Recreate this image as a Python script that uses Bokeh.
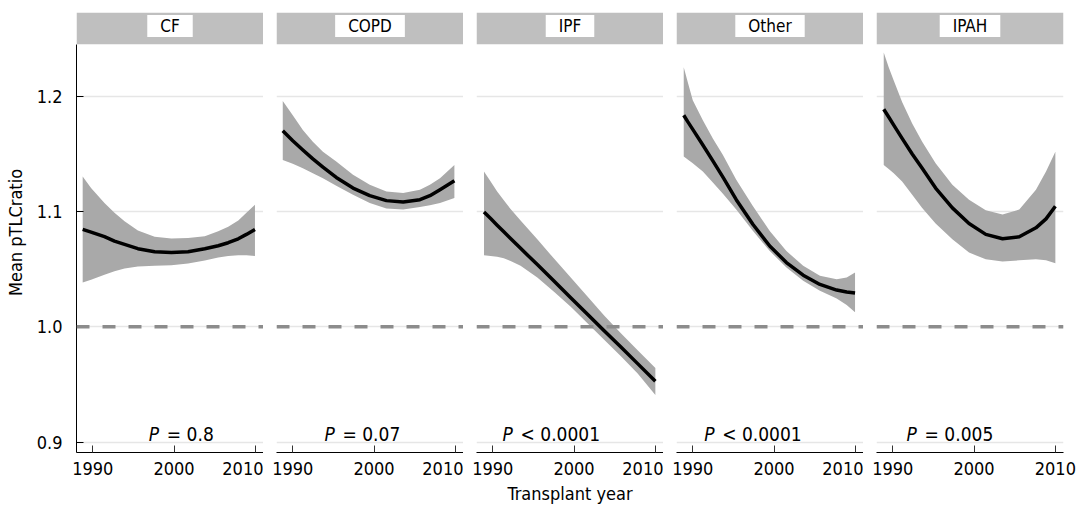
from bokeh.plotting import figure
from bokeh.layouts import row
from bokeh.models import Range1d, FixedTicker, Span, BoxAnnotation, Label, PrintfTickFormatter
from bokeh.embed import file_html
from bokeh.resources import INLINE

# Panels (diagnosis groups) and their trend-test results
diagnoses = ["CF", "COPD", "IPF", "Other", "IPAH"]
p_values = ["= 0.8", "= 0.07", "< 0.0001", "< 0.0001", "= 0.005"]

# Smoothed mean pTLC ratio by transplant year, with confidence band
cf_year = [1988.76, 1989.79, 1991.44, 1992.67, 1993.91, 1995.55, 1997.61, 1999.67,
           2001.72, 2003.78, 2005.43, 2006.66, 2007.90, 2008.90, 2009.95]
cf_mean = [1.0845, 1.0822, 1.0782, 1.0744, 1.0716, 1.0678, 1.0652, 1.0644,
           1.0652, 1.0678, 1.0704, 1.0730, 1.0764, 1.0802, 1.0845]
cf_upper = [1.1305, 1.1204, 1.1075, 1.0989, 1.0917, 1.0836, 1.0782, 1.0767,
            1.0770, 1.0787, 1.0830, 1.0868, 1.0922, 1.0989, 1.1060]
cf_lower = [1.0385, 1.0408, 1.0451, 1.0483, 1.0506, 1.0523, 1.0529, 1.0535,
            1.0549, 1.0575, 1.0601, 1.0615, 1.0621, 1.0621, 1.0615]

copd_year = [1988.77, 1990.00, 1991.24, 1992.47, 1993.71, 1995.35, 1997.41,
             1999.47, 2001.52, 2003.58, 2005.64, 2006.87, 2008.11, 2009.88]
copd_mean = [1.1701, 1.1615, 1.1534, 1.1457, 1.1385, 1.1296, 1.1204,
             1.1138, 1.1095, 1.1083, 1.1103, 1.1138, 1.1190, 1.1267]
copd_upper = [1.1960, 1.1836, 1.1707, 1.1606, 1.1520, 1.1434, 1.1319,
              1.1233, 1.1175, 1.1161, 1.1190, 1.1233, 1.1290, 1.1405]
copd_lower = [1.1448, 1.1414, 1.1376, 1.1333, 1.1290, 1.1224, 1.1147,
              1.1075, 1.1026, 1.1017, 1.1040, 1.1055, 1.1075, 1.1118]

ipf_year = [1988.92, 1989.74, 1990.54, 1991.36, 1992.19, 1993.42, 1995.48,
            1997.53, 1999.59, 2001.65, 2003.70, 2005.76, 2007.82, 2010.00]
ipf_mean = [1.0997, 1.0940, 1.0882, 1.0825, 1.0767, 1.0681, 1.0540,
            1.0397, 1.0253, 1.0109, 0.9966, 0.9825, 0.9681, 0.9529]
ipf_upper = [1.1348, 1.1262, 1.1175, 1.1098, 1.1023, 1.0922, 1.0759,
             1.0592, 1.0428, 1.0264, 1.0098, 0.9945, 0.9796, 0.9644]
ipf_lower = [1.0621, 1.0615, 1.0609, 1.0595, 1.0572, 1.0529, 1.0428,
             1.0305, 1.0175, 1.0032, 0.9888, 0.9744, 0.9595, 0.9408]

other_year = [1988.89, 1989.38, 1990.00, 1991.24, 1992.47, 1993.71, 1995.35, 1997.41,
              1999.47, 2001.52, 2003.58, 2005.64, 2007.70, 2008.93, 2009.96]
other_mean = [1.1836, 1.1780, 1.1713, 1.1578, 1.1440, 1.1299, 1.1103, 1.0888,
              1.0701, 1.0558, 1.0448, 1.0368, 1.0319, 1.0302, 1.0293]
other_upper = [1.2253, 1.2124, 1.1966, 1.1793, 1.1635, 1.1491, 1.1276, 1.1046,
               1.0831, 1.0658, 1.0529, 1.0443, 1.0414, 1.0428, 1.0471]
other_lower = [1.1477, 1.1452, 1.1420, 1.1348, 1.1253, 1.1155, 1.1017, 1.0831,
               1.0658, 1.0514, 1.0399, 1.0313, 1.0247, 1.0190, 1.0126]

ipah_year = [1988.89, 1989.50, 1990.12, 1991.15, 1992.39, 1993.62, 1995.27, 1997.33,
             1999.38, 2001.44, 2003.50, 2005.56, 2007.61, 2008.85, 2010.00]
ipah_mean = [1.1888, 1.1820, 1.1750, 1.1635, 1.1500, 1.1376, 1.1204, 1.1032,
             1.0896, 1.0802, 1.0764, 1.0781, 1.0859, 1.0937, 1.1046]
ipah_upper = [1.2379, 1.2253, 1.2138, 1.1951, 1.1764, 1.1606, 1.1420, 1.1233,
              1.1103, 1.1012, 1.0974, 1.1017, 1.1190, 1.1348, 1.1520]
ipah_lower = [1.1405, 1.1370, 1.1333, 1.1261, 1.1146, 1.1032, 1.0896, 1.0759,
              1.0644, 1.0586, 1.0566, 1.0577, 1.0586, 1.0577, 1.0552]

x_ticks = [1990, 2000, 2010]
y_ticks = [0.9, 1.0, 1.1, 1.2]
reference_ratio = 1.0

series = [
    (cf_year, cf_mean, cf_lower, cf_upper),
    (copd_year, copd_mean, copd_lower, copd_upper),
    (ipf_year, ipf_mean, ipf_lower, ipf_upper),
    (other_year, other_mean, other_lower, other_upper),
    (ipah_year, ipah_mean, ipah_lower, ipah_upper),
]

# styling / layout
FONT = "DejaVu Sans Condensed"
Y_MIN, Y_PANEL_TOP, Y_MAX = 0.891, 1.2451, 1.2727
STRIP_TEXT_Y = 1.2609
P_TEXT_Y = 0.9074
P_TEXT_X = [1996.9, 1993.9, 1991.2, 1991.4, 1991.7]
BAND = "#a9a9a9"
STRIP = "#bfbfbf"

figs = []
n = len(diagnoses)
for i, (name, pv, (yr, mean, lo, hi)) in enumerate(zip(diagnoses, p_values, series)):
    first, last = i == 0, i == n - 1
    width = 187 + (76 if first else 13) + (13 if last else 0)
    p = figure(
        width=width, height=506,
        x_range=Range1d(1988, 2011), y_range=Range1d(Y_MIN, Y_MAX),
        y_axis_location="left" if first else None,
        output_backend="svg", toolbar_location=None, tools="",
        min_border_left=76 if first else 13, min_border_right=13 if last else 0,
        min_border_top=12, min_border_bottom=52,
    )
    p.outline_line_color = None
    p.background_fill_color = "white"
    p.border_fill_color = "white"

    p.xgrid.visible = False
    p.ygrid.ticker = FixedTicker(ticks=y_ticks)
    p.ygrid.grid_line_color = "#e6e6e6"
    p.ygrid.grid_line_width = 1.5

    xa = p.xaxis[0]
    xa.ticker = FixedTicker(ticks=x_ticks)
    xa.major_tick_in = 7
    xa.major_tick_out = 0
    xa.minor_tick_line_color = None
    xa.axis_line_color = "black"
    xa.major_tick_line_color = "#333333"
    xa.major_label_text_font = FONT
    xa.major_label_text_font_size = "18px"
    xa.major_label_text_color = "black"
    xa.major_label_standoff = 9
    xa.axis_label = "Transplant year" if i == 2 else " "
    xa.axis_label_text_font = FONT
    xa.axis_label_text_font_size = "18px"
    xa.axis_label_text_font_style = "normal"
    xa.axis_label_text_color = "black"
    xa.axis_label_standoff = 5

    if first:
        ya = p.yaxis[0]
        ya.ticker = FixedTicker(ticks=y_ticks)
        ya.formatter = PrintfTickFormatter(format="%.1f")
        ya.bounds = (Y_MIN, Y_PANEL_TOP)
        ya.major_tick_in = 7
        ya.major_tick_out = 0
        ya.minor_tick_line_color = None
        ya.axis_line_color = "black"
        ya.major_label_text_font = FONT
        ya.major_label_text_font_size = "18px"
        ya.major_label_text_color = "black"
        ya.major_label_standoff = 14
        ya.axis_label = "Mean pTLCratio"
        ya.axis_label_text_font = FONT
        ya.axis_label_text_font_size = "18px"
        ya.axis_label_text_font_style = "normal"
        ya.axis_label_text_color = "black"
        ya.axis_label_standoff = 8

    # confidence band and fitted mean
    p.varea(x=yr, y1=lo, y2=hi, fill_color=BAND, fill_alpha=1.0)
    p.line(x=yr, y=mean, line_color="black", line_width=3.5, line_join="round")

    # reference ratio
    p.add_layout(Span(location=reference_ratio, dimension="width",
                      line_color="#8c8c8c", line_width=3.5, line_dash="13 13"))

    # facet strip with diagnosis name
    p.add_layout(BoxAnnotation(bottom=Y_PANEL_TOP, fill_color=STRIP, fill_alpha=1.0,
                               line_color=None))
    p.add_layout(Label(x=1999.5, y=STRIP_TEXT_Y, text=name, text_align="center",
                       text_baseline="middle", text_font=FONT, text_font_size="17px",
                       text_color="black", background_fill_color="white",
                       padding=dict(left=13, right=13, top=1, bottom=1)))

    # trend test result: italic P followed by the comparison
    p.add_layout(Label(x=P_TEXT_X[i], y=P_TEXT_Y, text="P", text_align="left",
                       text_baseline="alphabetic", text_font=FONT,
                       text_font_style="italic", text_font_size="19px",
                       text_color="black"))
    p.add_layout(Label(x=P_TEXT_X[i], y=P_TEXT_Y, x_offset=18, text=pv,
                       text_align="left", text_baseline="alphabetic",
                       text_font=FONT, text_font_size="19px", text_color="black"))
    figs.append(p)

layout = row(*figs)
open("out.html", "w").write(file_html(layout, INLINE))
